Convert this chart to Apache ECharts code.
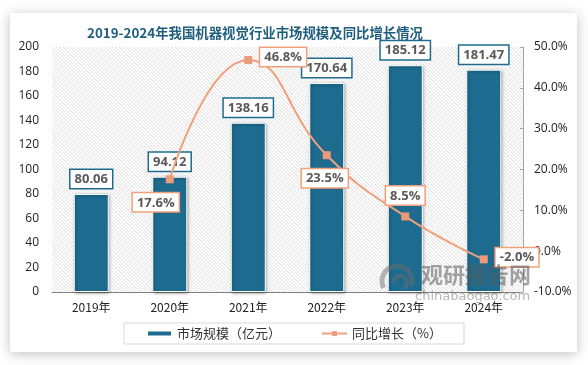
<!DOCTYPE html>
<html>
<head>
<meta charset="utf-8">
<script src="https://cdn.jsdelivr.net/npm/echarts@6/dist/echarts.min.js"></script>
<style>
html,body{margin:0;padding:0;background:#fff;}
#c{width:588px;height:365px;}
</style>
</head>
<body>
<div id="c"></div>
<script>
const years = ['2019年','2020年','2021年','2022年','2023年','2024年'];
const marketSize = [80.06, 94.12, 138.16, 170.64, 185.12, 181.47];
const growth = [null, 17.6, 46.8, 23.5, 8.5, -2.0];
const growthLabelPos = [null, 'bottom', 'right', 'bottom', 'top', 'right'];
const growthLabelOffset = [null, [-14, 2], [0, -3], [-2, 2], [0, 0], [0, -2]];

// plot-area hatch background (decoration only)
function hatchLines(x0, y0, W, H, s) {
  const out = [];
  for (let k = -H; k <= W; k += s) {
    const t0 = Math.max(0, -k), t1 = Math.min(H, W - k);
    if (t1 <= t0) continue;
    out.push({type: 'line', z: -5, silent: true,
      shape: {x1: x0 + k + t0, y1: y0 + t0, x2: x0 + k + t1, y2: y0 + t1},
      style: {stroke: '#d8d8d8', lineWidth: 0.9}});
  }
  return out;
}

const chart = echarts.init(document.getElementById('c'), null, {renderer: 'canvas'});
const lblBar = {
  show: true, position: 'top', distance: 6,
  color: '#595959', fontWeight: 'bold', fontSize: 13, fontFamily: 'Open Sans, sans-serif',
  backgroundColor: '#fff', borderColor: '#1f6b8e', borderWidth: 1.5, padding: [3, 4, 2, 4]
};
const lineData = growth.map((v, i) => v === null ? null : ({
  value: v,
  label: {
    show: true,
    position: growthLabelPos[i],
    offset: growthLabelOffset[i],
    distance: 8,
    formatter: p => p.value.toFixed(1) + '%',
    color: '#595959', fontWeight: 'bold', fontSize: 13, fontFamily: 'Open Sans, sans-serif',
    backgroundColor: '#fff', borderColor: '#f0a07a', borderWidth: 1.5, padding: [3, 4, 2, 4]
  }
}));

chart.setOption({
  animation: false,
  backgroundColor: '#fff',
  textStyle: {fontFamily: 'Noto Sans CJK SC, sans-serif'},
  graphic: [
    {type: 'rect', z: -10, shape: {x: 10, y: 13, width: 567, height: 339},
     style: {fill: '#fff', shadowBlur: 12, shadowColor: 'rgba(0,0,0,0.25)', shadowOffsetX: 0, shadowOffsetY: 2}}
  ].concat(hatchLines(52.5, 47, 471, 245, 3.5)).concat([
    {type: 'arc', z: 50, shape: {cx: 397, cy: 281, r: 15, startAngle: Math.PI * 0.85, endAngle: Math.PI * 2.1},
     style: {stroke: 'rgba(110,110,110,0.5)', lineWidth: 5, fill: 'none'}},
    {type: 'arc', z: 50, shape: {cx: 400, cy: 283, r: 7, startAngle: Math.PI * 1.0, endAngle: Math.PI * 2.3},
     style: {stroke: 'rgba(110,110,110,0.5)', lineWidth: 4, fill: 'none'}},
    {type: 'text', z: 50, left: 421, top: 264,
     style: {text: '观研报告网', fill: 'rgba(90,90,90,0.55)', font: 'bold 22px "Noto Sans CJK SC"'}},
    {type: 'text', z: 50, left: 415, top: 290,
     style: {text: 'chinabaogao.com', fill: 'rgba(120,120,120,0.55)', font: '13px "DejaVu Sans"'}}
  ]),
  title: {
    text: '2019-2024年我国机器视觉行业市场规模及同比增长情况',
    left: 82, top: 21,
    textStyle: {color: '#1f5e7e', fontSize: 13.4, fontWeight: 'bold', fontFamily: 'Noto Sans CJK SC'}
  },
  legend: {
    bottom: 21, left: 'center',
    borderColor: '#d9d9d9', borderWidth: 1, padding: [4, 22, 4, 22],
    itemGap: 40, itemWidth: 25, itemHeight: 6,
    textStyle: {fontSize: 13, color: '#333'},
    data: [
      {name: '市场规模（亿元）', icon: 'rect'},
      {name: '同比增长（%）'}
    ]
  },
  grid: {left: 52, right: 65, top: 47, bottom: 73},
  xAxis: {
    type: 'category', data: years,
    axisLine: {lineStyle: {color: '#808080'}},
    axisTick: {show: false},
    axisLabel: {color: '#222', fontSize: 12, margin: 9}
  },
  yAxis: [
    {type: 'value', min: 0, max: 200, interval: 20,
     axisLine: {show: false}, axisTick: {show: false}, splitLine: {show: false},
     axisLabel: {color: '#222', fontSize: 12, margin: 13, fontFamily: 'Open Sans, sans-serif'}},
    {type: 'value', min: -10, max: 50, interval: 10,
     axisLine: {show: true, lineStyle: {color: '#a6a6a6'}},
     axisTick: {show: true, inside: true, length: 3, lineStyle: {color: '#a6a6a6'}},
     splitLine: {show: false},
     axisLabel: {color: '#222', fontSize: 12, margin: 11, fontFamily: 'Open Sans, sans-serif',
       formatter: v => v.toFixed(1) + '%'}}
  ],
  series: [
    {name: '市场规模（亿元）', type: 'bar', data: marketSize, barWidth: 35,
     itemStyle: {color: '#1d6b8f', borderColor: '#fff', borderWidth: 1,
       shadowBlur: 3, shadowColor: 'rgba(0,0,0,0.35)', shadowOffsetX: 1, shadowOffsetY: 1},
     label: Object.assign({}, lblBar, {formatter: p => p.value.toFixed(2)}),
     z: 2},
    {name: '同比增长（%）', type: 'line', yAxisIndex: 1, data: lineData,
     smooth: true, symbol: 'rect', symbolSize: 8, showSymbol: true,
     lineStyle: {color: '#f0a07a', width: 2},
     itemStyle: {color: '#eb9b7b'},
     z: 5}
  ]
});
</script>
</body>
</html>
